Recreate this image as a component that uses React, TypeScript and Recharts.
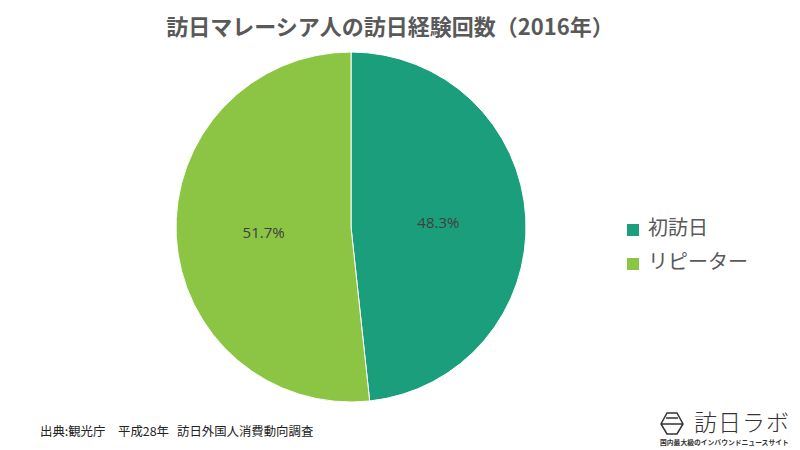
import { PieChart, Pie, Cell, Legend, Customized } from "recharts"

const categories = ["初訪日", "リピーター"]
const shares = [48.3, 51.7]
const colors = ["#1B9E7B", "#8CC444"]

const title = "訪日マレーシア人の訪日経験回数（2016年）"
const sourceParts = ["出典:観光庁", "平成28年", "訪日外国人消費動向調査"]
const logoName = "訪日ラボ"
const logoTagline = "国内最大級のインバウンドニュースサイト"

const data = categories.map((name, i) => ({ name, value: shares[i] }))

const FONT = '"Noto Sans CJK JP", "Open Sans", sans-serif'
const RAD = Math.PI / 180

function renderLabel({ cx, cy, midAngle, outerRadius, value }: any) {
  const r = outerRadius / 2
  const x = cx + r * Math.cos(-midAngle * RAD)
  const y = cy + r * Math.sin(-midAngle * RAD)
  return (
    <text
      x={x}
      y={y}
      textAnchor="middle"
      dominantBaseline="central"
      fill="#404040"
      fontSize={15}
      fontFamily='"Open Sans", sans-serif'
    >
      {value.toFixed(1)}%
    </text>
  )
}

function Decorations() {
  return (
    <g fontFamily={FONT}>
      <text x={390} y={25} textAnchor="middle" dominantBaseline="central" fontSize={22} fontWeight={700} fill="#595959">
        {title}
      </text>
      <text y={431} dominantBaseline="central" fontSize={12.4} fill="#222222">
        <tspan x={40}>{sourceParts[0]}</tspan>
        <tspan x={118}>{sourceParts[1]}</tspan>
        <tspan x={177}>{sourceParts[2]}</tspan>
      </text>
      {/* logo */}
      <path d="M667 413 L677 413 L683 424 L677 434 L667 434 L661 424 Z M661 424 L683 424 M666 418 L678 418" fill="none" stroke="#333333" strokeWidth={1.5} />
      <text x={694} y={421} dominantBaseline="central" fontSize={23} fontWeight={300} fill="#333333" letterSpacing={1}>
        {logoName}
      </text>
      <text x={660} y={442} dominantBaseline="central" fontSize={6.8} fontWeight={700} fill="#333333">
        {logoTagline}
      </text>
    </g>
  )
}

export default function App() {
  return (
    <div style={{ position: "absolute", left: 0, top: 0, width: 800, height: 450, background: "#ffffff" }}>
      <PieChart width={800} height={450} margin={{ top: 0, right: 0, bottom: 0, left: 0 }}>
        <Pie
          data={data}
          dataKey="value"
          nameKey="name"
          cx={351}
          cy={227}
          outerRadius={175}
          startAngle={90}
          endAngle={-270}
          stroke="#ffffff"
          strokeWidth={1}
          label={renderLabel}
          labelLine={false}
          isAnimationActive={false}
        >
          {data.map((d, i) => (
            <Cell key={d.name} fill={colors[i]} />
          ))}
        </Pie>
        <Legend
          layout="vertical"
          align="right"
          verticalAlign="top"
          iconType="square"
          iconSize={12}
          itemSorter={null}
          wrapperStyle={{ left: 627, top: 210, width: 160, right: "auto", fontFamily: FONT, fontSize: 20, lineHeight: "34px" }}
          formatter={(value: string) => <span style={{ color: "#595959", marginLeft: 5 }}>{value}</span>}
        />
        <Customized component={Decorations} />
      </PieChart>
    </div>
  )
}
